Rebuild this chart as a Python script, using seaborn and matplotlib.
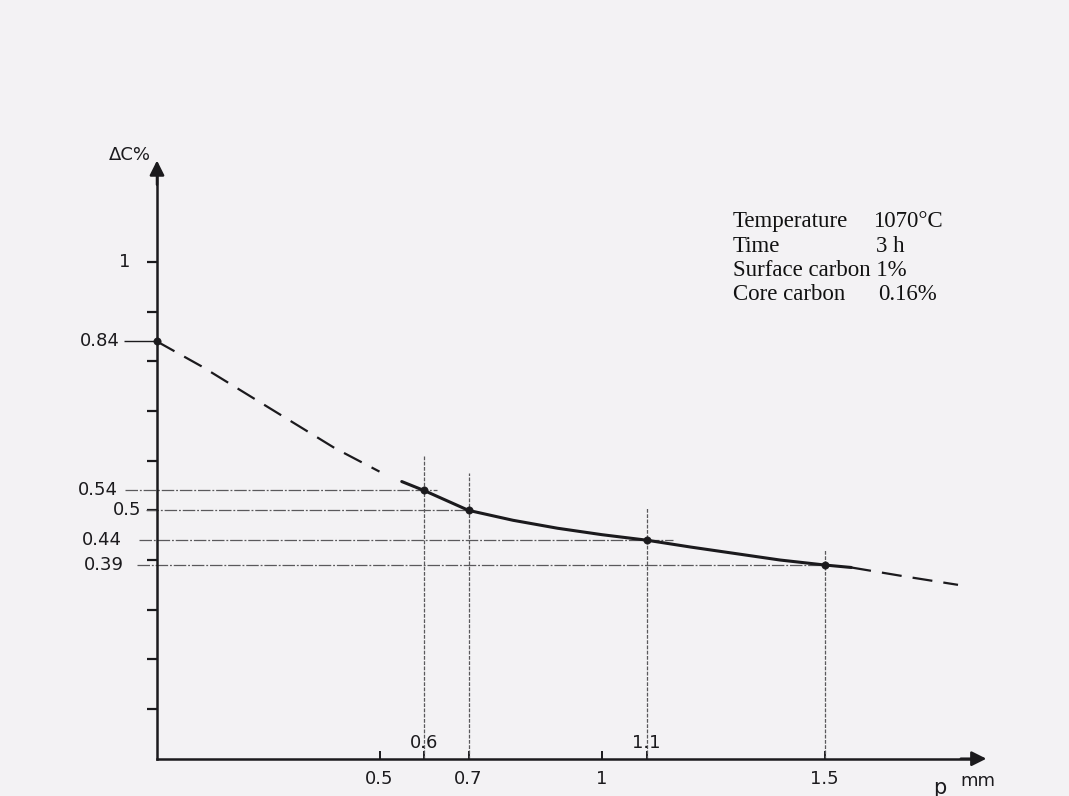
import matplotlib
matplotlib.use("Agg")
import matplotlib.pyplot as plt
import seaborn as sns
import pandas as pd

# values
head_x = [0.0, 0.1, 0.2, 0.3, 0.4, 0.5]
head_y = [0.84, 0.79, 0.735, 0.68, 0.625, 0.578]
solid_x = [0.55, 0.6, 0.7, 0.8, 0.9, 1.0, 1.1, 1.2, 1.3, 1.4, 1.5, 1.56]
solid_y = [0.558, 0.54, 0.50, 0.48, 0.464, 0.451, 0.44, 0.426, 0.413, 0.40, 0.39, 0.385]
tail_x = [1.56, 1.68, 1.80]
tail_y = [0.385, 0.367, 0.35]

marked_x = [0.0, 0.6, 0.7, 1.1, 1.5]
marked_y = [0.84, 0.54, 0.50, 0.44, 0.39]

yticks = [0.1, 0.2, 0.3, 0.4, 0.5, 0.6, 0.7, 0.8, 0.9, 1.0]
ylabels = ["1", "0.84", "0.54", "0.5", "0.44", "0.39"]
ylabel_vals = [1.0, 0.84, 0.54, 0.5, 0.44, 0.39]
xticks = [0.5, 0.6, 0.7, 1.0, 1.1, 1.5]
xlabels_below = ["0.5", "0.7", "1", "1.5"]
xlabels_above = ["0.6", "1.1"]

info_left = ["Temperature", "Time", "Surface carbon 1%", "Core carbon"]
info_right = ["1070°C", "3 h", "", "0.16%"]

sns.set_theme(style="white")
plt.rcParams["font.family"] = ["DejaVu Sans"]

ink = "#1b1a1d"
paper = "#f3f2f4"

fig = plt.figure(figsize=(10.69, 7.96), dpi=100, facecolor=paper)
ax = fig.add_axes([0, 0, 1, 1])
ax.set_facecolor(paper)
ax.set_xlim(-0.3528, 2.0494)
ax.set_ylim(-0.0751, 1.5275)

# axes drawn as arrows through the origin
for side in ["top", "right"]:
    ax.spines[side].set_visible(False)
ax.spines["left"].set_position(("data", 0))
ax.spines["bottom"].set_position(("data", 0))
ax.spines["left"].set_bounds(0, 1.18)
ax.spines["bottom"].set_bounds(0, 1.84)
for side in ["left", "bottom"]:
    ax.spines[side].set_color(ink)
    ax.spines[side].set_linewidth(1.8)
ax.annotate("", xy=(0, 1.21), xytext=(0, 1.15),
            arrowprops=dict(arrowstyle="-|>", color=ink, lw=1.8, mutation_scale=22))
ax.annotate("", xy=(1.87, 0), xytext=(1.8, 0),
            arrowprops=dict(arrowstyle="-|>", color=ink, lw=1.8, mutation_scale=22))

ax.set_yticks(yticks)
ax.set_xticks(xticks)
ax.tick_params(axis="y", direction="out", length=7.5, width=1.6, color=ink, labelleft=False, left=True)
ax.tick_params(axis="x", direction="in", length=6, width=1.4, color=ink, labelbottom=False, bottom=True)

# guide lines
guide = dict(color="#5a595c", lw=0.9)
ax.hlines(0.84, -0.075, 0, color=ink, lw=1.0)
h_start = [-0.072, -0.025, -0.04, -0.045]
h_end = [0.63, 0.70, 1.16, 1.51]
for yv, a, b in zip(marked_y[1:], h_start, h_end):
    ax.hlines(yv, a, b, linestyles=[(0, (10, 1.5, 1.5, 1.5))], **guide)
v_top = [0.61, 0.575, 0.505, 0.42]
for xv, t in zip(marked_x[1:], v_top):
    ax.vlines(xv, 0, t, linestyles=[(0, (3, 1.2))], **guide)

# curve
sns.lineplot(x=head_x, y=head_y, ax=ax, color=ink, lw=1.6, sort=False,
             linestyle=(0, (9, 5)))
sns.lineplot(x=solid_x, y=solid_y, ax=ax, color=ink, lw=2.2, sort=False)
sns.lineplot(x=tail_x, y=tail_y, ax=ax, color=ink, lw=1.6, sort=False,
             linestyle=(0, (9, 5)))
sns.scatterplot(x=marked_x, y=marked_y, ax=ax, color=ink, s=28, edgecolor=ink, zorder=5)

# hand-written style labels
lab = dict(color=ink, fontsize=13)
ylab_right = [-0.06, -0.083, -0.088, -0.036, -0.079, -0.074]
for txt, yv, xr in zip(ylabels, ylabel_vals, ylab_right):
    ax.text(xr, yv, txt, ha="right", va="center", **lab)
for txt in xlabels_below:
    ax.text(float(txt), -0.04, txt, ha="center", va="center", **lab)
for txt in xlabels_above:
    ax.text(float(txt), 0.032, txt, ha="center", va="center", **lab)
ax.text(-0.06, 1.215, "ΔC%", ha="center", va="center", **lab)
ax.text(1.76, -0.058, "p", ha="center", va="center", color=ink, fontsize=15)
ax.text(1.845, -0.045, "mm", ha="center", va="center", **lab)

# conditions block
serif = dict(color="#111", fontsize=16.5, family="Liberation Serif")
right_x = [1.609, 1.616, 1.62, 1.62]
rows_y = [1.0702, 1.0199, 0.9716, 0.9233]
for left, right, rx, yv in zip(info_left, info_right, right_x, rows_y):
    ax.text(1.294, yv, left, ha="left", va="baseline", **serif)
    if right:
        ax.text(rx, yv, right, ha="left", va="baseline", **serif)

fig.savefig("out.png", dpi=100, facecolor=paper)
